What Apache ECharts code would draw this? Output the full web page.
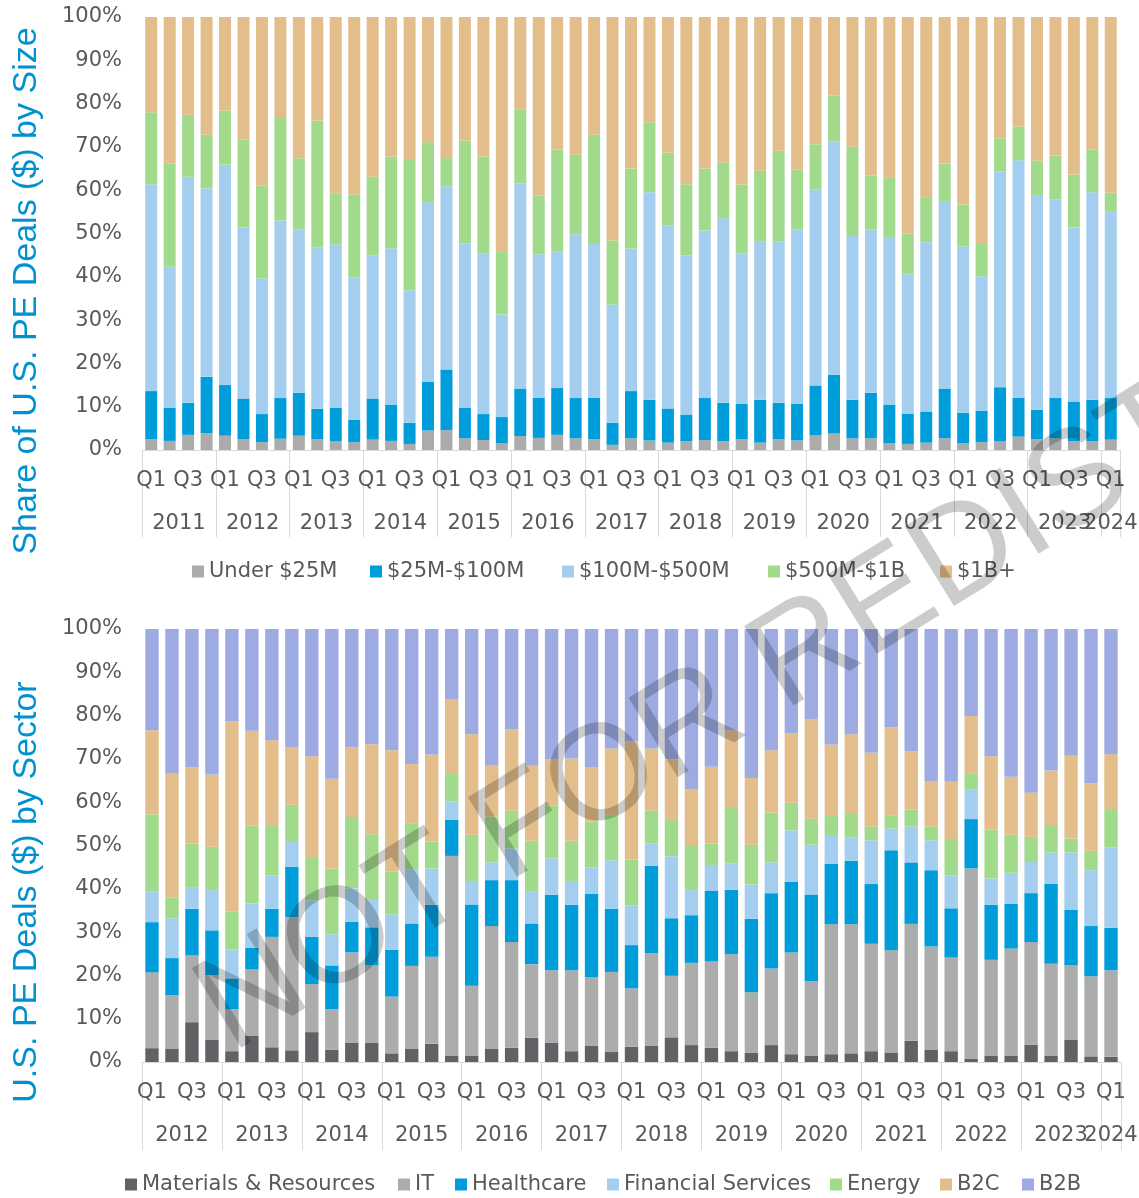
<!DOCTYPE html>
<html><head><meta charset="utf-8">
<script src="https://cdn.jsdelivr.net/npm/echarts@6/dist/echarts.min.js"></script>
<style>html,body{margin:0;padding:0;background:#fff}#c{width:1139px;height:1198px}</style>
</head><body><div id="c"></div>
<script>
// ---------- categories ----------
const quarterNames = ['Q1','Q2','Q3','Q4'];
const yearsTop = ['2011','2012','2013','2014','2015','2016','2017','2018','2019','2020','2021','2022','2023','2024'];
const yearsBottom = ['2012','2013','2014','2015','2016','2017','2018','2019','2020','2021','2022','2023','2024'];
function buildCats(years){const c=[];years.forEach((y,i)=>{const n=(i===years.length-1)?1:4;for(let q=0;q<n;q++)c.push(quarterNames[q]+' '+y);});return c;}
const catsTop = buildCats(yearsTop);
const catsBottom = buildCats(yearsBottom);

// ---------- top chart: share by size (%) ----------
const sizeNames = ['Under $25M','$25M-$100M','$100M-$500M','$500M-$1B','$1B+'];
const under25 = [2.5,2.1,3.5,3.9,3.3,2.5,1.8,2.6,3.3,2.5,2.0,1.8,2.4,2.1,1.4,4.5,4.6,2.7,2.3,1.6,3.2,2.8,3.5,2.7,2.5,1.2,2.7,2.2,1.7,2.0,2.3,2.0,2.5,1.7,2.5,2.2,3.4,3.8,2.7,2.7,1.6,1.4,1.7,2.7,1.6,1.8,2.0,3.1,2.5,2.7,2.0,2.0,2.4];
const m25to100 = [11.1,7.7,7.4,13.0,11.7,9.4,6.5,9.4,9.9,7.0,7.8,5.2,9.5,8.4,4.9,11.3,14.0,7.1,6.0,6.0,11.0,9.3,10.8,9.3,9.6,5.1,10.9,9.4,7.9,6.2,9.7,8.9,8.2,9.9,8.4,8.5,11.5,13.6,8.9,10.5,8.9,7.0,7.2,11.5,7.0,7.3,12.5,9.0,6.8,9.3,9.2,9.6,9.6];
const m100to500 = [47.8,32.5,52.2,43.5,50.9,39.5,31.3,41.0,37.8,37.3,37.7,32.9,33.1,36.1,30.6,41.4,42.3,37.9,37.0,23.7,47.4,33.1,31.5,37.8,35.5,27.3,32.9,47.9,42.3,36.7,38.7,42.6,34.7,36.5,37.2,40.2,45.3,53.8,37.8,37.8,38.7,32.2,39.1,43.3,38.4,31.0,49.9,54.8,49.4,45.8,40.2,47.9,43.0];
const m500to1b = [16.6,23.9,14.3,12.4,12.5,20.3,21.4,23.7,16.4,29.3,11.8,19.1,18.1,21.2,30.1,13.9,6.5,23.8,22.5,14.4,17.1,13.5,23.6,18.4,25.2,14.8,18.5,16.2,16.8,16.5,14.3,12.9,15.9,16.4,21.0,13.8,10.4,10.6,20.7,12.4,13.8,9.4,10.4,8.7,9.7,7.7,7.6,7.8,8.1,10.2,12.2,9.9,4.4];
const b1plus = [22.0,33.8,22.6,27.2,21.6,28.3,39.0,23.3,32.6,23.9,40.7,41.0,36.9,32.2,33.0,28.9,32.6,28.5,32.2,54.3,21.3,41.3,30.6,31.8,27.2,51.6,35.0,24.3,31.3,38.6,35.0,33.6,38.7,35.5,30.9,35.3,29.4,18.2,29.9,36.6,37.0,50.0,41.6,33.8,43.3,52.2,28.0,25.3,33.2,32.0,36.4,30.6,40.6];

// ---------- bottom chart: share by sector (%) ----------
const sectorNames = ['Materials & Resources','IT','Healthcare','Financial Services','Energy','B2C','B2B'];
const materials = [3.2,3.0,9.2,5.2,2.5,6.0,3.4,2.7,6.9,2.8,4.5,4.5,2.0,3.0,4.2,1.5,1.4,3.0,3.3,5.6,4.5,2.5,3.7,2.3,3.5,3.7,5.7,3.9,3.3,2.5,2.1,3.9,1.8,1.5,1.8,2.0,2.5,2.2,4.9,2.8,2.5,0.8,1.5,1.5,4.0,1.5,5.2,1.3,1.2];
const itSector = [17.5,12.4,15.4,14.8,9.7,15.4,25.5,30.7,11.1,9.4,20.8,17.8,13.1,19.2,20.1,46.1,16.2,28.4,24.4,17.0,16.7,18.7,15.9,18.5,13.5,21.4,14.2,19.0,19.9,22.4,14.0,17.7,23.5,17.2,30.0,29.8,24.8,23.6,27.0,23.9,21.6,43.9,22.1,24.7,23.7,21.2,17.1,18.5,20.0];
const healthcare = [11.6,8.6,10.8,10.4,7.1,5.0,6.5,11.7,10.9,10.1,7.1,8.8,10.8,9.8,12.0,8.3,18.8,10.6,14.3,9.4,17.4,15.1,19.2,14.6,10.0,20.2,13.3,11.0,16.4,14.9,17.0,17.4,16.3,20.0,14.0,14.7,13.8,23.1,14.2,17.6,11.4,11.4,12.7,10.3,11.3,18.4,12.8,11.6,9.8];
const finServices = [7.1,9.2,5.0,9.3,6.7,10.2,7.7,5.7,8.4,7.2,7.7,6.3,8.2,12.5,8.4,4.3,5.4,4.1,7.3,7.3,8.4,5.3,6.1,11.2,9.1,5.2,14.3,5.8,5.9,6.0,7.9,7.1,11.9,11.5,6.4,5.3,10.1,5.0,8.3,6.9,7.6,6.9,6.1,7.2,7.2,7.3,13.3,12.9,18.5];
const energy = [17.8,4.8,10.1,10.0,8.7,18.0,11.4,8.6,9.8,15.2,16.5,15.2,9.9,10.5,6.2,6.3,10.7,10.6,8.7,11.8,12.2,9.5,10.6,10.4,10.7,7.6,8.6,10.4,5.0,13.1,9.2,11.5,6.4,6.0,4.6,5.5,3.2,3.1,3.9,3.2,8.4,3.7,11.3,8.8,5.8,6.1,3.2,4.5,8.7];
const b2c = [19.4,28.6,17.5,16.7,44.0,21.9,19.8,13.3,23.5,20.7,16.1,20.8,28.0,13.8,20.1,17.2,23.2,11.9,18.8,17.3,10.8,19.0,12.6,15.4,27.3,14.3,13.8,12.9,17.7,17.7,15.4,14.4,16.0,23.0,16.5,18.4,17.0,20.3,13.4,10.5,13.2,13.2,16.9,13.4,10.2,12.8,19.1,15.6,12.9];
const b2b = [23.4,33.4,32.0,33.6,21.3,23.5,25.7,27.3,29.4,34.6,27.3,26.6,28.0,31.2,29.0,16.3,24.3,31.4,23.2,31.6,30.0,29.9,31.9,27.6,25.9,27.6,30.1,37.0,31.8,23.4,34.4,28.0,24.1,20.8,26.7,24.3,28.6,22.7,28.3,35.1,35.3,20.1,29.4,34.1,37.8,32.7,29.3,35.6,28.9];

const sizeColors = ['#ABABAB','#009DDB','#A3CEEF','#A2DA8C','#E3BE8A'];
const sectorColors = ['#616265','#ABACAC','#009DDB','#A3CEEF','#A2DA8C','#E3BE8A','#9EABE2'];
const sizeData = [under25,m25to100,m100to500,m500to1b,b1plus];
const sectorData = [materials,itSector,healthcare,finServices,energy,b2c,b2b];

// legend icon x positions (layout)
const sizeLegendX = [192,370,562,768,940];
const sectorLegendX = [125,398,455,607,830,940,1022];

const FONT = '"DejaVu Sans", sans-serif';
const TFONT = '"Liberation Sans", Arial, sans-serif';
const FS = 21;
const TXT = '#595959';
const LINE = '#D9D9D9';

function yAxis(gi){
  return {type:'value',gridIndex:gi,min:0,max:100,interval:10,
    axisLine:{show:false},axisTick:{show:false},splitLine:{show:false},
    axisLabel:{formatter:'{value}%',fontSize:FS,color:TXT,fontFamily:FONT,margin:20}};
}
function qAxis(gi,cats){
  return {type:'category',gridIndex:gi,data:cats,position:'bottom',
    axisLine:{show:true,lineStyle:{color:LINE,width:1}},axisTick:{show:false},
    axisLabel:{interval:0,margin:20,fontSize:FS,color:TXT,fontFamily:FONT,
      formatter:(v,i)=>(i%2===0?v.split(' ')[0]:'')}};
}
function yrAxis(gi,cats,tickLen,half){
  const last = cats.length-1;
  return {type:'category',gridIndex:gi,data:cats,position:'bottom',
    axisLine:{show:false},
    axisTick:{show:true,length:tickLen,interval:(i)=>i%4===0,lineStyle:{color:LINE,width:1}},
    axisLabel:{margin:63,interval:0,hideOverlap:false,
      formatter:(v,i)=>{const y=v.split(' ')[1];if(i===last)return '{n|'+y+'}';return i%4===1?'{s|'+y+'}':'';},
      rich:{s:{fontSize:FS,color:TXT,fontFamily:FONT,padding:[0,0,0,half*2]},
            n:{fontSize:FS,color:TXT,fontFamily:FONT}}}};
}

const series = [];
sizeNames.forEach((n,k)=>series.push({name:n,type:'bar',stack:'size',xAxisIndex:0,yAxisIndex:0,
  data:sizeData[k],barCategoryGap:'35%',itemStyle:{color:sizeColors[k]}}));
sectorNames.forEach((n,k)=>series.push({name:n,type:'bar',stack:'sector',xAxisIndex:2,yAxisIndex:1,
  data:sectorData[k],barCategoryGap:'33%',itemStyle:{color:sectorColors[k]}}));

const legends = [];
sizeNames.forEach((n,k)=>legends.push({data:[n],left:sizeLegendX[k]-5,top:556,itemWidth:12,itemHeight:12,icon:'rect',
  textStyle:{fontSize:FS,color:TXT,fontFamily:FONT}}));
sectorNames.forEach((n,k)=>legends.push({data:[n],left:sectorLegendX[k]-5,top:1169,itemWidth:12,itemHeight:12,icon:'rect',
  textStyle:{fontSize:FS,color:TXT,fontFamily:FONT}}));

const option = {
  animation:false,
  backgroundColor:'#fff',
  grid:[{left:142,right:19,top:17,height:433,outerBoundsMode:'none'},
        {left:142,right:18,top:629,height:433,outerBoundsMode:'none'}],
  xAxis:[qAxis(0,catsTop),yrAxis(0,catsTop,87,9.2),qAxis(1,catsBottom),yrAxis(1,catsBottom,88,10)],
  yAxis:[yAxis(0),yAxis(1)],
  legend:legends,
  graphic:[
    {type:'text',x:27,y:291,rotation:Math.PI/2,z:50,
     style:{text:'Share of U.S. PE Deals ($) by Size',fontSize:34,fill:'#0091D0',fontFamily:TFONT,align:'center',verticalAlign:'middle'}},
    {type:'text',x:27,y:892,rotation:Math.PI/2,z:50,
     style:{text:'U.S. PE Deals ($) by Sector',fontSize:34,fill:'#0091D0',fontFamily:TFONT,align:'center',verticalAlign:'middle'}},
    {type:'text',x:212,y:1022,rotation:0.555,z:100,silent:true,
     style:{text:'NOT FOR REDISTRIBUTION',fontSize:136,fill:'rgba(0,0,0,0.2)',fontFamily:TFONT,align:'left',verticalAlign:'middle'}}
  ],
  series:series
};
const chart = echarts.init(document.getElementById('c'),null,{renderer:'canvas'});
chart.setOption(option);
</script></body></html>
